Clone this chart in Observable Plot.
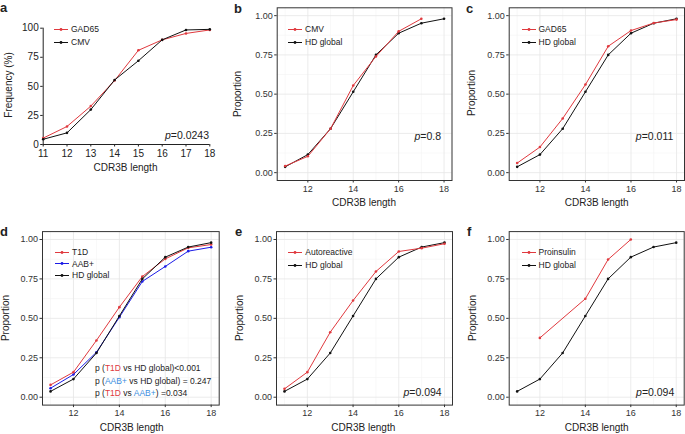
<!DOCTYPE html>
<html><head><meta charset="utf-8">
<script src="https://cdn.jsdelivr.net/npm/d3@7"></script>
<script src="https://cdn.jsdelivr.net/npm/@observablehq/plot@0.6"></script>
<style>
html,body{margin:0;padding:0;background:#fff;}
#c{position:relative;width:685px;height:434px;overflow:hidden;font-family:"Liberation Sans",Arial,sans-serif;color:#222;}
.t{position:absolute;white-space:nowrap;line-height:1;}
</style></head><body><div id="c"></div>
<script>
// ---- data ----
const lengths = [11, 12, 13, 14, 15, 16, 17, 18];
const aGAD65 = [5.5, 15.5, 33, 55, 81, 90, 95.5, 98.5];
const aCMV = [4.5, 10, 30, 55.5, 72, 90, 98.5, 99];
const hdGlobal = [0.037, 0.115, 0.28, 0.515, 0.75, 0.888, 0.952, 0.98];
const bLengths = [11, 12, 13, 14, 15, 16, 17];
const bCMV = [0.042, 0.104, 0.28, 0.555, 0.74, 0.90, 0.98];
const cGAD65 = [0.061, 0.163, 0.345, 0.561, 0.805, 0.905, 0.953, 0.975];
const dT1D = [0.078, 0.159, 0.36, 0.571, 0.765, 0.877, 0.947, 0.968];
const dAAB = [0.057, 0.144, 0.285, 0.507, 0.734, 0.829, 0.926, 0.951];
const eAuto = [0.053, 0.159, 0.412, 0.613, 0.797, 0.924, 0.945, 0.973];
const fLengths = [12, 14, 15, 16];
const fProinsulin = [0.376, 0.624, 0.873, 1.0];
const xMajor = [12, 14, 16, 18];
const xMinor = [11, 13, 15, 17];
const yMajor = [0, 0.25, 0.5, 0.75, 1];
const yMinor = [0.125, 0.375, 0.625, 0.875];
const aXTicks = [11, 12, 13, 14, 15, 16, 17, 18];
const aYTicks = [0, 25, 50, 75, 100];

const RED = "#e0393e", BLUE = "#1b1be6", BLACK = "#111", LBLUE = "#3a8ee0";
const C = document.getElementById("c");
const font = '"Liberation Sans",Arial,sans-serif';

function series(xs, ys, color) {
  const d = xs.map((x, i) => ({x, y: ys[i]}));
  return [
    Plot.line(d, {x: "x", y: "y", stroke: color, strokeWidth: 1}),
    Plot.dot(d, {x: "x", y: "y", fill: color, r: 1.3, stroke: null})
  ];
}

function place(svg, left, top) {
  svg.style.position = "absolute";
  svg.style.left = left + "px";
  svg.style.top = top + "px";
  C.appendChild(svg);
}

function bwPanel(left, top, w, h, m, seriesList) {
  const svg = Plot.plot({
    width: w, height: h,
    marginLeft: m[0], marginRight: m[1], marginTop: m[2], marginBottom: m[3],
    style: {background: "transparent", fontFamily: font, fontSize: "9px", color: "#333", maxWidth: "none"},
    x: {domain: [10.65, 18.35]},
    y: {domain: [-0.05, 1.05]},
    marks: [
      Plot.gridX(xMinor, {stroke: "#f3f3f3", strokeOpacity: 1, strokeWidth: 0.6}),
      Plot.gridY(yMinor, {stroke: "#f3f3f3", strokeOpacity: 1, strokeWidth: 0.6}),
      Plot.gridX(xMajor, {stroke: "#e6e6e6", strokeOpacity: 1, strokeWidth: 0.8}),
      Plot.gridY(yMajor, {stroke: "#e6e6e6", strokeOpacity: 1, strokeWidth: 0.8}),
      Plot.axisX(xMajor, {tickSize: 2.5, tickPadding: 2.5, label: null, fontSize: 9, fill: "#333"}),
      Plot.axisY(yMajor, {tickSize: 2.5, tickPadding: 2, label: null, fontSize: 9, fill: "#333", tickFormat: d3.format(".2f")}),
      ...seriesList,
      Plot.frame({stroke: "#333", strokeWidth: 1})
    ]
  });
  place(svg, left, top);
}

// panel a (classic theme)
(function(){
  const svg = Plot.plot({
    width: 225, height: 215,
    marginLeft: 42.7, marginRight: 15.7, marginTop: 27.7, marginBottom: 71,
    style: {background: "transparent", fontFamily: font, fontSize: "10px", color: "#222", maxWidth: "none"},
    x: {domain: [11, 18]},
    y: {domain: [0, 100]},
    marks: [
      Plot.axisX(aXTicks, {tickSize: 2.5, tickPadding: 3, label: null, fontSize: 10, fill: "#222"}),
      Plot.axisY(aYTicks, {tickSize: 2.5, tickPadding: 2, label: null, fontSize: 10, fill: "#222"}),
      Plot.ruleY([0], {stroke: "#222"}),
      Plot.ruleX([11], {stroke: "#222"}),
      ...series(lengths, aGAD65, RED),
      ...series(lengths, aCMV, BLACK)
    ]
  });
  place(svg, 0, 0);
})();

bwPanel(225, 0, 230, 215, [51.7, 3.5, 7.3, 35], [...series(lengths, hdGlobal, BLACK), ...series(bLengths, bCMV, RED)]);
bwPanel(455, 0, 230, 215, [53.7, 1, 7.3, 35], [...series(lengths, hdGlobal, BLACK), ...series(lengths, cGAD65, RED)]);
bwPanel(0, 220, 230, 214, [42, 11.3, 11.1, 29.4], [...series(lengths, dAAB, BLUE), ...series(lengths, dT1D, RED), ...series(lengths, hdGlobal, BLACK)]);
bwPanel(225, 220, 230, 214, [51, 3, 11.1, 29.4], [...series(lengths, hdGlobal, BLACK), ...series(lengths, eAuto, RED)]);
bwPanel(455, 220, 230, 214, [53.7, 1.3, 11.1, 29.4], [...series(lengths, hdGlobal, BLACK), ...series(fLengths, fProinsulin, RED)]);

// ---- text overlays ----
function txt(html, x, y, opt = {}) {
  const d = document.createElement("div");
  d.className = "t";
  d.innerHTML = html;
  d.style.left = x + "px";
  d.style.top = y + "px";
  d.style.fontSize = (opt.size || 10) + "px";
  if (opt.bold) d.style.fontWeight = "bold";
  if (opt.color) d.style.color = opt.color;
  const ax = opt.anchor === "end" ? "-100%" : opt.anchor === "start" ? "0" : "-50%";
  d.style.transform = `translate(${ax},-50%)`;
  C.appendChild(d);
  return d;
}
function vtxt(s, x, y, size) {
  const d = document.createElement("div");
  d.className = "t";
  d.textContent = s;
  d.style.fontSize = size + "px";
  d.style.left = x + "px";
  d.style.top = y + "px";
  d.style.transform = "translate(-50%,-50%) rotate(-90deg)";
  C.appendChild(d);
}
function legend(items, x, y0, dy, size) {
  items.forEach(([label, color], i) => {
    const y = y0 + i * dy;
    const s = document.createElementNS("http://www.w3.org/2000/svg", "svg");
    s.setAttribute("width", 14); s.setAttribute("height", 5);
    s.style.position = "absolute"; s.style.left = x + "px"; s.style.top = (y - 2.5) + "px";
    s.innerHTML = `<line x1="0" x2="14" y1="2.5" y2="2.5" stroke="${color}" stroke-width="1"/><circle cx="7" cy="2.5" r="1.4" fill="${color}"/>`;
    C.appendChild(s);
    txt(label, x + 17, y, {anchor: "start", size});
  });
}

// letters
txt("a", 0, 7, {anchor: "start", bold: true, size: 13});
txt("b", 234, 8, {anchor: "start", bold: true, size: 13});
txt("c", 466, 8, {anchor: "start", bold: true, size: 13});
txt("d", 0, 231, {anchor: "start", bold: true, size: 13});
txt("e", 235, 231, {anchor: "start", bold: true, size: 13});
txt("f", 467, 231, {anchor: "start", bold: true, size: 13});

// axis titles
txt("CDR3B length", 125.5, 168, {size: 10});
txt("CDR3B length", 364, 203, {size: 10});
txt("CDR3B length", 596.7, 203, {size: 10});
txt("CDR3B length", 131.7, 428, {size: 10});
txt("CDR3B length", 363.3, 428, {size: 10});
txt("CDR3B length", 596.7, 428, {size: 10});
vtxt("Frequency (%)", 8.5, 85, 10);
vtxt("Proportion", 238, 94, 10);
vtxt("Proportion", 471.5, 93, 10);
vtxt("Proportion", 6, 318, 10);
vtxt("Proportion", 240, 318, 10);
vtxt("Proportion", 473, 318, 10);

// legends
legend([["GAD65", RED], ["CMV", BLACK]], 54, 29, 13, 8.5);
legend([["CMV", RED], ["HD global", BLACK]], 288, 29.3, 13, 8.5);
legend([["GAD65", RED], ["HD global", BLACK]], 521.5, 29, 13.3, 8.5);
legend([["T1D", RED], ["AAB+", BLUE], ["HD global", BLACK]], 55, 252, 11.5, 8.5);
legend([["Autoreactive", RED], ["HD global", BLACK]], 288.3, 252.3, 12.7, 8.5);
legend([["Proinsulin", RED], ["HD global", BLACK]], 521.5, 252.3, 12.7, 8.5);

// p-values
txt("<i>p</i>=0.0243", 209, 135, {anchor: "end", size: 10.5});
txt("<i>p</i>=0.8", 441, 136, {anchor: "end", size: 10.5});
txt("<i>p</i>=0.011", 673.3, 136, {anchor: "end", size: 10.5});
txt("<i>p</i>=0.094", 441.7, 392.3, {anchor: "end", size: 10.5});
txt("<i>p</i>=0.094", 674.3, 392.3, {anchor: "end", size: 10.5});
txt(`p (<span style="color:${RED}">T1D</span> vs HD global)&lt;0.001`, 95, 367.5, {anchor: "start", size: 8.5});
txt(`p (<span style="color:${LBLUE}">AAB+</span> vs HD global) = 0.247`, 95, 380.5, {anchor: "start", size: 8.5});
txt(`p (<span style="color:${RED}">T1D</span> vs <span style="color:${LBLUE}">AAB+</span>) =0.034`, 95, 393, {anchor: "start", size: 8.5});
</script></body></html>
